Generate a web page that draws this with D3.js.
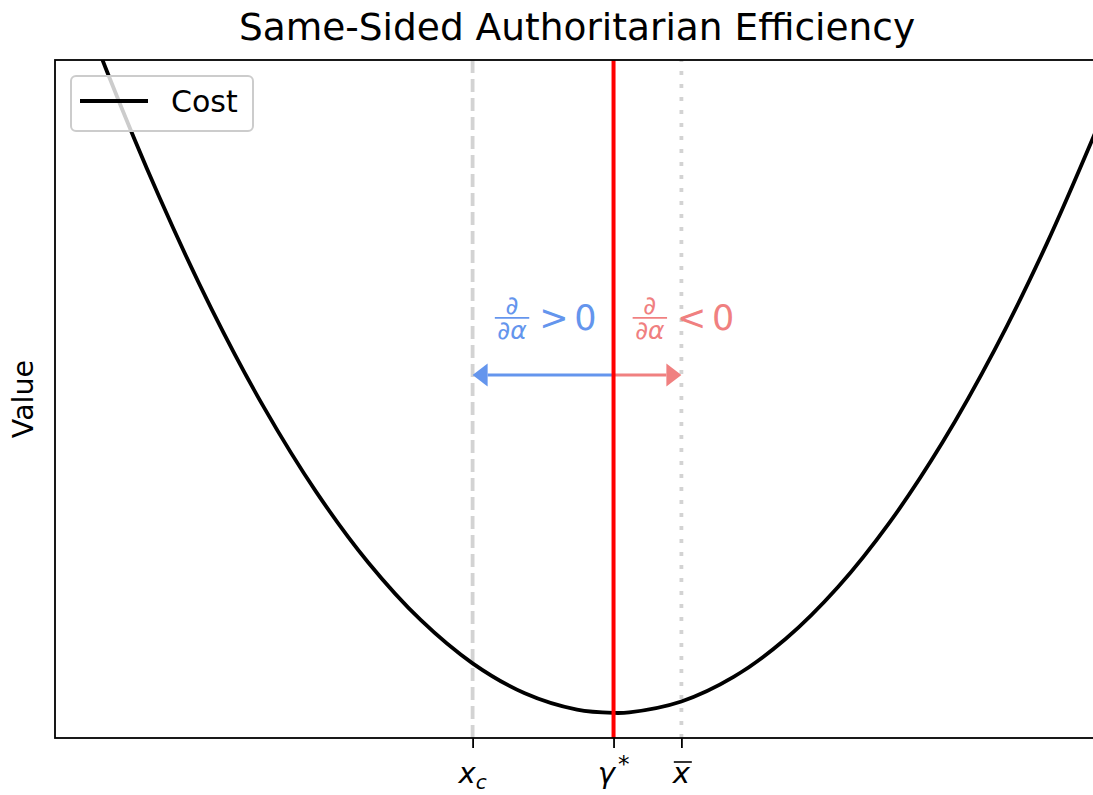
<!DOCTYPE html>
<html>
<head>
<meta charset="utf-8">
<script src="https://cdn.jsdelivr.net/npm/d3@7"></script>
<style>
  body { margin: 0; background: #ffffff; }
  svg { display: block; font-family: "DejaVu Sans", sans-serif; }
</style>
</head>
<body>
<svg id="chart" width="1093" height="795"></svg>
<script>
// Cost curve samples (policy position -> cost)
const costX = [0, 0.5, 1, 1.5, 2, 2.5, 3, 3.5, 4, 4.5, 5, 5.35, 5.5, 6, 6.5, 7, 7.5, 8, 8.5, 9, 9.5, 10];
const costY = [28.62, 23.52, 18.92, 14.82, 11.22, 8.12, 5.52, 3.42, 1.82, 0.72, 0.12, 0.0, 0.02, 0.42, 1.32, 2.72, 4.62, 7.02, 9.92, 13.32, 17.22, 21.62];

// Reference positions on the policy axis
const xC = 4.0;
const gammaStar = 5.35;
const xBar = 6.0;
const tickValues = [xC, gammaStar, xBar];
const tickNames = ["x_c", "gamma_star", "x_bar"];

// Direction-of-change arrows and their labels
const arrowLevel = 12.4;
const labelLevel = 14.5;
const labelBlueX = 4.7;
const labelRedX = 6.02;

const xDomain = [0, 10];
const yDomain = [-0.92, 23.96];

const svg = d3.select("#chart");
const plot = { left: 55, top: 60, right: 1099, bottom: 738 };

const x = d3.scaleLinear().domain(xDomain).range([plot.left, plot.right]);
const y = d3.scaleLinear().domain(yDomain).range([plot.bottom, plot.top]);

svg.append("rect").attr("width", 1093).attr("height", 795).attr("fill", "#fff");

svg.append("defs").append("clipPath").attr("id", "plotClip")
  .append("rect")
  .attr("x", plot.left).attr("y", plot.top)
  .attr("width", plot.right - plot.left).attr("height", plot.bottom - plot.top);

const g = svg.append("g").attr("clip-path", "url(#plotClip)");

// Reference lines: x_c dashed, x-bar dotted
g.append("line")
  .attr("x1", x(xC)).attr("x2", x(xC))
  .attr("y1", plot.bottom).attr("y2", plot.top)
  .attr("stroke", "#d3d3d3").attr("stroke-width", 3.8)
  .attr("stroke-dasharray", "13,6");

g.append("line")
  .attr("x1", x(xBar)).attr("x2", x(xBar))
  .attr("y1", plot.bottom).attr("y2", plot.top)
  .attr("stroke", "#d3d3d3").attr("stroke-width", 3.8)
  .attr("stroke-dasharray", "4,9");

// Cost curve
const pts = costX.map((v, i) => [v, costY[i]]);
g.append("path")
  .datum(pts)
  .attr("fill", "none")
  .attr("stroke", "#000")
  .attr("stroke-width", 3.8)
  .attr("stroke-linejoin", "round")
  .attr("d", d3.line().x(d => x(d[0])).y(d => y(d[1])).curve(d3.curveCatmullRom.alpha(0.5)));

// Arrows from gamma* outward
function arrow(from, to, color) {
  const x0 = x(from), x1 = x(to), yy = y(arrowLevel);
  const dir = Math.sign(x1 - x0);
  const headLen = 15, headHalf = 11.5;
  g.append("line")
    .attr("x1", x0).attr("x2", x1 - dir * headLen)
    .attr("y1", yy).attr("y2", yy)
    .attr("stroke", color).attr("stroke-width", 3.2);
  g.append("path")
    .attr("d", `M${x1},${yy} L${x1 - dir * headLen},${yy - headHalf} L${x1 - dir * headLen},${yy + headHalf} Z`)
    .attr("fill", color);
}
arrow(gammaStar, xC, "#6495ED");
arrow(gammaStar, xBar, "#F08080");

// gamma* line
g.append("line")
  .attr("x1", x(gammaStar)).attr("x2", x(gammaStar))
  .attr("y1", plot.bottom).attr("y2", plot.top)
  .attr("stroke", "#ff0000").attr("stroke-width", 4);

// Derivative sign labels
function derivLabel(cx, sign, color) {
  const lg = svg.append("g").attr("fill", color);
  const fracSize = 25, relSize = 35;
  const den = lg.append("text")
    .attr("x", 0).attr("y", 21)
    .attr("font-size", fracSize);
  den.append("tspan").text("∂");
  den.append("tspan").attr("font-style", "italic").text("α");
  const dw = den.node().getComputedTextLength();
  const barW = dw + 5;
  den.attr("x", 2.5);
  lg.append("line")
    .attr("x1", 0).attr("x2", barW).attr("y1", 0).attr("y2", 0)
    .attr("stroke", color).attr("stroke-width", 1.7);
  lg.append("text")
    .attr("x", barW / 2).attr("y", -4)
    .attr("text-anchor", "middle")
    .attr("font-size", fracSize).text("∂");
  lg.append("text")
    .attr("x", barW + 10).attr("y", 12)
    .attr("font-size", relSize).text(sign);
  lg.append("text")
    .attr("x", barW + 45).attr("y", 12)
    .attr("font-size", relSize).text("0");
  const bb = lg.node().getBBox();
  lg.attr("transform", `translate(${x(cx) - (bb.x + bb.width / 2)},${y(labelLevel)})`);
}
derivLabel(labelBlueX, ">", "#6495ED");
derivLabel(labelRedX, "<", "#F08080");

// Axes frame
svg.append("rect")
  .attr("x", plot.left).attr("y", plot.top)
  .attr("width", plot.right - plot.left).attr("height", plot.bottom - plot.top)
  .attr("fill", "none").attr("stroke", "#000").attr("stroke-width", 1.8);

// X axis ticks with math labels
const xAxis = d3.axisBottom(x).tickValues(tickValues).tickSize(10).tickFormat(() => "");
const axG = svg.append("g").attr("transform", `translate(0,${plot.bottom})`).call(xAxis);
axG.select(".domain").remove();
axG.selectAll(".tick line").attr("stroke", "#000").attr("stroke-width", 1.8);

const labelSize = 29;
tickValues.forEach((v, i) => {
  const t = svg.append("text")
    .attr("x", x(v)).attr("y", 783)
    .attr("text-anchor", "middle")
    .attr("font-size", labelSize).attr("fill", "#000");
  const name = tickNames[i];
  if (name === "x_c") {
    t.append("tspan").attr("font-style", "italic").text("x");
    t.append("tspan").attr("font-style", "italic").attr("font-size", 20).attr("dy", 6).text("c");
  } else if (name === "gamma_star") {
    t.append("tspan").attr("font-style", "italic").text("γ");
    t.append("tspan").attr("font-size", 23).attr("dy", -11).attr("dx", 3).text("*");
  } else {
    t.append("tspan").attr("font-style", "italic").text("x");
    const bb = t.node().getBBox();
    svg.append("line")
      .attr("x1", bb.x + 2).attr("x2", bb.x + bb.width + 1)
      .attr("y1", 762).attr("y2", 762)
      .attr("stroke", "#000").attr("stroke-width", 1.6);
  }
});

// Title
svg.append("text")
  .attr("x", (plot.left + plot.right) / 2).attr("y", 40)
  .attr("text-anchor", "middle")
  .attr("font-size", 37.5).attr("fill", "#000")
  .text("Same-Sided Authoritarian Efficiency");

// Y label
svg.append("text")
  .attr("transform", `translate(33,${(plot.top + plot.bottom) / 2}) rotate(-90)`)
  .attr("text-anchor", "middle")
  .attr("font-size", 28.5).attr("fill", "#000")
  .text("Value");

// Legend
const leg = svg.append("g");
leg.append("rect")
  .attr("x", 71).attr("y", 76).attr("width", 182).attr("height", 55)
  .attr("rx", 5).attr("ry", 5)
  .attr("fill", "#fff").attr("fill-opacity", 0.8)
  .attr("stroke", "#cccccc").attr("stroke-width", 2);
leg.append("line")
  .attr("x1", 80).attr("x2", 148).attr("y1", 101).attr("y2", 101)
  .attr("stroke", "#000").attr("stroke-width", 3.8);
leg.append("text")
  .attr("x", 171).attr("y", 112)
  .attr("font-size", 30).attr("fill", "#000")
  .text("Cost");
</script>
</body>
</html>
